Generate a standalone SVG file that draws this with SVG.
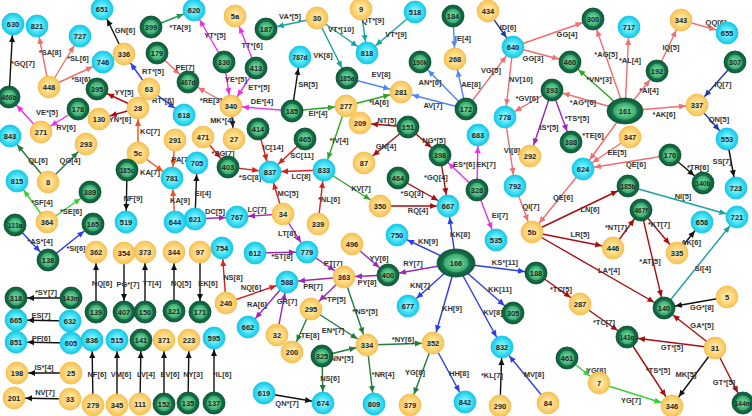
<svg xmlns="http://www.w3.org/2000/svg" width="752" height="416" viewBox="0 0 752 416">
<style>
line{stroke-width:1.4;fill:none}
.k{stroke:#111;marker-end:url(#a-k)}
.s{stroke:#f26d6d;marker-end:url(#a-s)}
.dr{stroke:#a80d10;marker-end:url(#a-dr)}
.r{stroke:#d81e1e;marker-end:url(#a-r)}
.or{stroke:#f0501e;marker-end:url(#a-or)}
.m{stroke:#ee2ee6;marker-end:url(#a-m)}
.p{stroke:#9b27b5;marker-end:url(#a-p)}
.b{stroke:#2b3bf0;marker-end:url(#a-b)}
.lb{stroke:#4f86f7;marker-end:url(#a-lb)}
.db{stroke:#1c3aa8;marker-end:url(#a-db)}
.t{stroke:#17a2a2;marker-end:url(#a-t)}
.g{stroke:#1e7b3c;marker-end:url(#a-g)}
.bg{stroke:#2aa52a;marker-end:url(#a-bg)}
.lg{stroke:#3ccc3c;marker-end:url(#a-lg)}
.tg{stroke:#1e9a55;marker-end:url(#a-tg)}
.el{font-family:"Liberation Sans",Arial,sans-serif;font-size:7.5px;font-weight:bold;fill:#333;text-anchor:middle}
.nt{font-family:"Liberation Sans",Arial,sans-serif;font-size:7.5px;font-weight:bold;fill:#222;text-anchor:middle}
.n4{font-size:6.6px}
.nc{fill:url(#gc);stroke:#19c7e3;stroke-width:0.8}
.no{fill:url(#go);stroke:#f2bf55;stroke-width:0.8}
.ng{fill:url(#gg);stroke:#0b5232;stroke-width:0.8}
</style>
<defs>
<radialGradient id="gc"><stop offset="0" stop-color="#b5fbff"/><stop offset="0.6" stop-color="#45e2f7"/><stop offset="1" stop-color="#14c6e4"/></radialGradient>
<radialGradient id="go"><stop offset="0" stop-color="#fff3c8"/><stop offset="0.6" stop-color="#ffd67a"/><stop offset="1" stop-color="#f5c257"/></radialGradient>
<radialGradient id="gg"><stop offset="0" stop-color="#8ae6ab"/><stop offset="0.62" stop-color="#38aa6e"/><stop offset="0.7" stop-color="#17704a"/><stop offset="1" stop-color="#0e5a38"/></radialGradient>
<marker id="a-k" viewBox="-20 -4 20 8" refX="0" refY="0" markerWidth="20" markerHeight="8" markerUnits="userSpaceOnUse" orient="auto"><path d="M-11.5,0 L-18,-3 L-18,3 Z" fill="#111"/></marker>
<marker id="a-s" viewBox="-20 -4 20 8" refX="0" refY="0" markerWidth="20" markerHeight="8" markerUnits="userSpaceOnUse" orient="auto"><path d="M-11.5,0 L-18,-3 L-18,3 Z" fill="#f26d6d"/></marker>
<marker id="a-dr" viewBox="-20 -4 20 8" refX="0" refY="0" markerWidth="20" markerHeight="8" markerUnits="userSpaceOnUse" orient="auto"><path d="M-11.5,0 L-18,-3 L-18,3 Z" fill="#a80d10"/></marker>
<marker id="a-r" viewBox="-20 -4 20 8" refX="0" refY="0" markerWidth="20" markerHeight="8" markerUnits="userSpaceOnUse" orient="auto"><path d="M-11.5,0 L-18,-3 L-18,3 Z" fill="#d81e1e"/></marker>
<marker id="a-or" viewBox="-20 -4 20 8" refX="0" refY="0" markerWidth="20" markerHeight="8" markerUnits="userSpaceOnUse" orient="auto"><path d="M-11.5,0 L-18,-3 L-18,3 Z" fill="#f0501e"/></marker>
<marker id="a-m" viewBox="-20 -4 20 8" refX="0" refY="0" markerWidth="20" markerHeight="8" markerUnits="userSpaceOnUse" orient="auto"><path d="M-11.5,0 L-18,-3 L-18,3 Z" fill="#ee2ee6"/></marker>
<marker id="a-p" viewBox="-20 -4 20 8" refX="0" refY="0" markerWidth="20" markerHeight="8" markerUnits="userSpaceOnUse" orient="auto"><path d="M-11.5,0 L-18,-3 L-18,3 Z" fill="#9b27b5"/></marker>
<marker id="a-b" viewBox="-20 -4 20 8" refX="0" refY="0" markerWidth="20" markerHeight="8" markerUnits="userSpaceOnUse" orient="auto"><path d="M-11.5,0 L-18,-3 L-18,3 Z" fill="#2b3bf0"/></marker>
<marker id="a-lb" viewBox="-20 -4 20 8" refX="0" refY="0" markerWidth="20" markerHeight="8" markerUnits="userSpaceOnUse" orient="auto"><path d="M-11.5,0 L-18,-3 L-18,3 Z" fill="#4f86f7"/></marker>
<marker id="a-db" viewBox="-20 -4 20 8" refX="0" refY="0" markerWidth="20" markerHeight="8" markerUnits="userSpaceOnUse" orient="auto"><path d="M-11.5,0 L-18,-3 L-18,3 Z" fill="#1c3aa8"/></marker>
<marker id="a-t" viewBox="-20 -4 20 8" refX="0" refY="0" markerWidth="20" markerHeight="8" markerUnits="userSpaceOnUse" orient="auto"><path d="M-11.5,0 L-18,-3 L-18,3 Z" fill="#17a2a2"/></marker>
<marker id="a-g" viewBox="-20 -4 20 8" refX="0" refY="0" markerWidth="20" markerHeight="8" markerUnits="userSpaceOnUse" orient="auto"><path d="M-11.5,0 L-18,-3 L-18,3 Z" fill="#1e7b3c"/></marker>
<marker id="a-bg" viewBox="-20 -4 20 8" refX="0" refY="0" markerWidth="20" markerHeight="8" markerUnits="userSpaceOnUse" orient="auto"><path d="M-11.5,0 L-18,-3 L-18,3 Z" fill="#2aa52a"/></marker>
<marker id="a-lg" viewBox="-20 -4 20 8" refX="0" refY="0" markerWidth="20" markerHeight="8" markerUnits="userSpaceOnUse" orient="auto"><path d="M-11.5,0 L-18,-3 L-18,3 Z" fill="#3ccc3c"/></marker>
<marker id="a-tg" viewBox="-20 -4 20 8" refX="0" refY="0" markerWidth="20" markerHeight="8" markerUnits="userSpaceOnUse" orient="auto"><path d="M-11.5,0 L-18,-3 L-18,3 Z" fill="#1e9a55"/></marker>
</defs>
<rect width="752" height="416" fill="#fff"/>
<g id="connectors">
<line class="k" x1="9" y1="97" x2="13" y2="24"/>
<line class="s" x1="49" y1="87" x2="37" y2="26"/>
<line class="s" x1="49" y1="87" x2="80" y2="36"/>
<line class="s" x1="49" y1="87" x2="103" y2="62"/>
<line class="k" x1="124" y1="54" x2="102" y2="9"/>
<line class="b" x1="149" y1="89" x2="124" y2="54"/>
<line class="b" x1="149" y1="89" x2="184" y2="115"/>
<line class="dr" x1="138" y1="108" x2="97" y2="89"/>
<line class="dr" x1="138" y1="108" x2="99" y2="119"/>
<line class="or" x1="138" y1="153" x2="138" y2="108"/>
<line class="m" x1="41" y1="132" x2="9" y2="97"/>
<line class="m" x1="78" y1="109" x2="41" y2="132"/>
<line class="s" x1="157" y1="53" x2="188" y2="82"/>
<line class="tg" x1="151" y1="27" x2="194" y2="10"/>
<line class="m" x1="224" y1="62" x2="194" y2="10"/>
<line class="m" x1="256" y1="68" x2="235" y2="16"/>
<line class="m" x1="224" y1="62" x2="231" y2="106"/>
<line class="m" x1="256" y1="68" x2="231" y2="106"/>
<line class="s" x1="231" y1="106" x2="188" y2="82"/>
<line class="m" x1="292" y1="111" x2="231" y2="106"/>
<line class="k" x1="231" y1="106" x2="234" y2="139"/>
<line class="k" x1="292" y1="111" x2="300" y2="57"/>
<line class="bg" x1="292" y1="111" x2="346" y2="106"/>
<line class="t" x1="317" y1="18" x2="266" y2="29"/>
<line class="t" x1="317" y1="18" x2="367" y2="53"/>
<line class="t" x1="361" y1="9" x2="367" y2="53"/>
<line class="t" x1="415" y1="12" x2="367" y2="53"/>
<line class="t" x1="317" y1="18" x2="347" y2="78"/>
<line class="lb" x1="347" y1="78" x2="401" y2="92"/>
<line class="bg" x1="346" y1="106" x2="401" y2="92"/>
<line class="lb" x1="466" y1="109" x2="401" y2="92"/>
<line class="lb" x1="466" y1="109" x2="420" y2="62"/>
<line class="lb" x1="466" y1="109" x2="455" y2="59"/>
<line class="lb" x1="453" y1="16" x2="455" y2="59"/>
<line class="s" x1="466" y1="109" x2="513" y2="47"/>
<line class="db" x1="488" y1="11" x2="513" y2="47"/>
<line class="s" x1="513" y1="47" x2="593" y2="19"/>
<line class="s" x1="513" y1="47" x2="570" y2="62"/>
<line class="s" x1="513" y1="47" x2="505" y2="117"/>
<line class="s" x1="552" y1="90" x2="505" y2="117"/>
<line class="p" x1="552" y1="90" x2="530" y2="156"/>
<line class="p" x1="552" y1="90" x2="571" y2="142"/>
<line class="s" x1="625" y1="111" x2="593" y2="19"/>
<line class="s" x1="625" y1="111" x2="629" y2="27"/>
<line class="bg" x1="625" y1="111" x2="570" y2="62"/>
<line class="s" x1="625" y1="111" x2="552" y2="90"/>
<line class="s" x1="625" y1="111" x2="657" y2="71"/>
<line class="s" x1="625" y1="111" x2="697" y2="105"/>
<line class="s" x1="625" y1="111" x2="583" y2="169"/>
<line class="s" x1="657" y1="71" x2="681" y2="20"/>
<line class="s" x1="681" y1="20" x2="727" y2="33"/>
<line class="db" x1="735" y1="62" x2="697" y2="105"/>
<line class="db" x1="697" y1="105" x2="727" y2="139"/>
<line class="s" x1="630" y1="137" x2="583" y2="169"/>
<line class="s" x1="670" y1="155" x2="583" y2="169"/>
<line class="s" x1="583" y1="169" x2="532" y2="232"/>
<line class="k" x1="670" y1="155" x2="703" y2="183"/>
<line class="k" x1="727" y1="139" x2="736" y2="188"/>
<line class="t" x1="628" y1="186" x2="737" y2="217"/>
<line class="t" x1="664" y1="308" x2="737" y2="217"/>
<line class="dr" x1="532" y1="232" x2="628" y2="186"/>
<line class="dr" x1="532" y1="232" x2="613" y2="248"/>
<line class="dr" x1="532" y1="232" x2="664" y2="308"/>
<line class="dr" x1="613" y1="248" x2="641" y2="210"/>
<line class="dr" x1="641" y1="210" x2="677" y2="253"/>
<line class="k" x1="677" y1="253" x2="702" y2="222"/>
<line class="dr" x1="641" y1="210" x2="664" y2="308"/>
<line class="s" x1="515" y1="186" x2="532" y2="232"/>
<line class="s" x1="505" y1="117" x2="515" y2="186"/>
<line class="dr" x1="536" y1="273" x2="580" y2="304"/>
<line class="dr" x1="580" y1="304" x2="627" y2="337"/>
<line class="dr" x1="715" y1="348" x2="627" y2="337"/>
<line class="dr" x1="715" y1="348" x2="664" y2="308"/>
<line class="k" x1="727" y1="297" x2="664" y2="308"/>
<line class="dr" x1="627" y1="337" x2="672" y2="406"/>
<line class="k" x1="715" y1="348" x2="672" y2="406"/>
<line class="dr" x1="715" y1="348" x2="743" y2="403"/>
<line class="lg" x1="567" y1="358" x2="599" y2="383"/>
<line class="lg" x1="599" y1="383" x2="672" y2="406"/>
<line class="b" x1="456" y1="263" x2="448" y2="206"/>
<line class="b" x1="456" y1="263" x2="397" y2="235"/>
<line class="p" x1="456" y1="263" x2="388" y2="275"/>
<line class="b" x1="456" y1="263" x2="536" y2="273"/>
<line class="b" x1="456" y1="263" x2="408" y2="306"/>
<line class="b" x1="456" y1="263" x2="433" y2="343"/>
<line class="b" x1="456" y1="263" x2="513" y2="313"/>
<line class="b" x1="456" y1="263" x2="502" y2="347"/>
<line class="b" x1="433" y1="343" x2="465" y2="402"/>
<line class="g" x1="433" y1="343" x2="410" y2="405"/>
<line class="g" x1="367" y1="345" x2="433" y2="343"/>
<line class="g" x1="367" y1="345" x2="374" y2="404"/>
<line class="k" x1="500" y1="406" x2="502" y2="347"/>
<line class="b" x1="548" y1="403" x2="502" y2="347"/>
<line class="g" x1="344" y1="277" x2="367" y2="345"/>
<line class="g" x1="311" y1="309" x2="367" y2="345"/>
<line class="g" x1="322" y1="356" x2="367" y2="345"/>
<line class="g" x1="322" y1="356" x2="323" y2="403"/>
<line class="k" x1="264" y1="393" x2="323" y2="403"/>
<line class="g" x1="311" y1="309" x2="292" y2="352"/>
<line class="p" x1="344" y1="277" x2="311" y2="309"/>
<line class="p" x1="344" y1="277" x2="287" y2="282"/>
<line class="p" x1="388" y1="275" x2="344" y2="277"/>
<line class="p" x1="287" y1="282" x2="248" y2="327"/>
<line class="p" x1="277" y1="335" x2="287" y2="282"/>
<line class="r" x1="226" y1="303" x2="287" y2="282"/>
<line class="r" x1="226" y1="303" x2="222" y2="248"/>
<line class="k" x1="200" y1="252" x2="200" y2="312"/>
<line class="p" x1="307" y1="252" x2="344" y2="277"/>
<line class="p" x1="352" y1="244" x2="388" y2="275"/>
<line class="p" x1="283" y1="214" x2="307" y2="252"/>
<line class="p" x1="255" y1="253" x2="307" y2="252"/>
<line class="p" x1="283" y1="214" x2="237" y2="217"/>
<line class="p" x1="195" y1="219" x2="237" y2="217"/>
<line class="k" x1="195" y1="219" x2="197" y2="163"/>
<line class="r" x1="283" y1="214" x2="270" y2="172"/>
<line class="r" x1="324" y1="170" x2="270" y2="172"/>
<line class="r" x1="318" y1="224" x2="324" y2="170"/>
<line class="r" x1="305" y1="139" x2="270" y2="172"/>
<line class="r" x1="258" y1="129" x2="270" y2="172"/>
<line class="r" x1="228" y1="167" x2="270" y2="172"/>
<line class="r" x1="203" y1="137" x2="228" y2="167"/>
<line class="bg" x1="346" y1="106" x2="324" y2="170"/>
<line class="bg" x1="324" y1="170" x2="380" y2="206"/>
<line class="dr" x1="380" y1="206" x2="448" y2="206"/>
<line class="dr" x1="398" y1="178" x2="448" y2="206"/>
<line class="dr" x1="440" y1="155" x2="448" y2="206"/>
<line class="dr" x1="408" y1="127" x2="440" y2="155"/>
<line class="dr" x1="408" y1="127" x2="360" y2="123"/>
<line class="dr" x1="408" y1="127" x2="364" y2="163"/>
<line class="m" x1="477" y1="190" x2="440" y2="155"/>
<line class="m" x1="477" y1="190" x2="478" y2="135"/>
<line class="m" x1="477" y1="190" x2="496" y2="240"/>
<line class="or" x1="138" y1="153" x2="172" y2="178"/>
<line class="or" x1="175" y1="140" x2="172" y2="178"/>
<line class="or" x1="175" y1="222" x2="172" y2="178"/>
<line class="k" x1="127" y1="170" x2="126" y2="222"/>
<line class="g" x1="48" y1="182" x2="10" y2="136"/>
<line class="g" x1="48" y1="182" x2="86" y2="144"/>
<line class="lg" x1="47" y1="222" x2="17" y2="181"/>
<line class="lg" x1="47" y1="222" x2="90" y2="192"/>
<line class="b" x1="15" y1="225" x2="48" y2="260"/>
<line class="b" x1="48" y1="260" x2="93" y2="224"/>
<line class="k" x1="96" y1="312" x2="96" y2="252"/>
<line class="k" x1="124" y1="253" x2="124" y2="312"/>
<line class="k" x1="145" y1="312" x2="145" y2="252"/>
<line class="k" x1="174" y1="311" x2="174" y2="252"/>
<line class="k" x1="71" y1="298" x2="16" y2="298"/>
<line class="k" x1="70" y1="321" x2="16" y2="320"/>
<line class="k" x1="71" y1="343" x2="16" y2="342"/>
<line class="k" x1="71" y1="373" x2="17" y2="373"/>
<line class="k" x1="70" y1="399" x2="14" y2="398"/>
<line class="k" x1="93" y1="405" x2="92" y2="340"/>
<line class="k" x1="117" y1="405" x2="117" y2="340"/>
<line class="k" x1="140" y1="404" x2="141" y2="340"/>
<line class="k" x1="164" y1="404" x2="164" y2="340"/>
<line class="k" x1="188" y1="403" x2="189" y2="340"/>
<line class="k" x1="214" y1="403" x2="214" y2="338"/>
<g class="el">
<text x="23" y="66">*GQ[7]</text><text x="50" y="55">*SA[8]</text><text x="78" y="61">*SL[6]</text><text x="81" y="82">*SI[6]</text>
<text x="125" y="33">GN[6]</text><text x="153" y="74">RT*[5]</text><text x="163" y="103">RT*[6]</text><text x="124" y="95">YY[5]</text>
<text x="120" y="122">YN*[6]</text><text x="150" y="134">KC[7]</text><text x="47" y="115">VE*[5]</text><text x="66" y="130">RV[6]</text>
<text x="185" y="70">PE[7]</text><text x="180" y="30">*TA[9]</text><text x="215" y="38">YT*[5]</text><text x="252" y="48">TT*[6]</text>
<text x="236" y="82">YE*[5]</text><text x="259" y="90">ET*[5]</text><text x="211" y="103">*RE[3]</text><text x="262" y="104">DE*[4]</text>
<text x="222" y="123">MK*[4]</text><text x="308" y="87">SR[5]</text><text x="318" y="116">EI*[4]</text><text x="290" y="19">VA*[5]</text>
<text x="341" y="32">VT*[10]</text><text x="373" y="23">QT*[9]</text><text x="396" y="37">VT*[9]</text><text x="323" y="58">VK[8]</text>
<text x="381" y="77">EV[8]</text><text x="379" y="105">*IA[6]</text><text x="433" y="108">AV[7]</text><text x="430" y="85">AN*[6]</text>
<text x="471" y="87">AE[8]</text><text x="463" y="41">IE[4]</text><text x="491" y="73">VG[5]</text><text x="508" y="30">ID[6]</text>
<text x="567" y="37">GG[4]</text><text x="533" y="61">GG[3]</text><text x="521" y="82">NV[10]</text><text x="527" y="101">*GV[6]</text>
<text x="549" y="130">IS*[5]</text><text x="577" y="121">*TS*[5]</text><text x="606" y="57">*AG[5]</text><text x="630" y="63">*AL[4]</text>
<text x="599" y="82">*VN*[3]</text><text x="583" y="105">*AG*[6]</text><text x="649" y="93">*AI[4]</text><text x="671" y="50">IQ[5]</text>
<text x="716" y="25">QQ[6]</text><text x="664" y="117">*AK[6]</text><text x="723" y="87">IQ[7]</text><text x="719" y="122">QN[5]</text>
<text x="593" y="138">*TE[6]</text><text x="617" y="155">EE[5]</text><text x="636" y="167">QE[6]</text><text x="563" y="200">QE[6]</text>
<text x="698" y="170">*TR[6]</text><text x="722" y="164">SS[7]</text><text x="683" y="199">NI[5]</text><text x="703" y="271">SI[4]</text>
<text x="590" y="212">LN[6]</text><text x="580" y="237">LR[5]</text><text x="609" y="273">LA*[4]</text><text x="616" y="230">*NT[7]</text>
<text x="659" y="227">*KT[7]</text><text x="691" y="245">AK[6]</text><text x="650" y="264">*AT[5]</text><text x="531" y="209">QI[7]</text>
<text x="512" y="153">VI[8]</text><text x="505" y="265">KS*[11]</text><text x="561" y="292">*TC[5]</text><text x="604" y="325">*TC[7]</text>
<text x="672" y="350">GT*[5]</text><text x="702" y="328">GA*[5]</text><text x="702" y="310">GG*[8]</text><text x="658" y="373">*TS*[5]</text>
<text x="686" y="377">MK[5]</text><text x="724" y="385">GT*[5]</text><text x="596" y="373">YG[8]</text><text x="631" y="403">YG[7]</text>
<text x="460" y="237">KK[8]</text><text x="428" y="244">KN[9]</text><text x="413" y="266">RY[7]</text><text x="420" y="288">KN[7]</text>
<text x="452" y="311">KH[9]</text><text x="500" y="292">KK[11]</text><text x="493" y="315">KV[8]</text><text x="459" y="376">HH[8]</text>
<text x="415" y="375">YG[8]</text><text x="403" y="342">*NY[6]</text><text x="383" y="377">*NR[4]</text><text x="492" y="378">*KL[7]</text>
<text x="534" y="377">MV[8]</text><text x="365" y="314">*NS*[5]</text><text x="333" y="333">EN*[7]</text><text x="342" y="361">NN*[5]</text>
<text x="330" y="381">NS[6]</text><text x="287" y="406">QN*[7]</text><text x="310" y="338">TE[8]</text><text x="335" y="302">*TP[5]</text>
<text x="313" y="289">PR[7]</text><text x="367" y="285">PY[8]</text><text x="257" y="307">RA[6]</text><text x="287" y="304">GR[7]</text>
<text x="251" y="290">NQ[6]</text><text x="233" y="280">NS[8]</text><text x="208" y="286">EK[6]</text><text x="333" y="266">PT[7]</text>
<text x="379" y="261">YV[6]</text><text x="287" y="236">LT[8]</text><text x="282" y="259">*ST[8]</text><text x="257" y="212">LC[7]</text>
<text x="215" y="214">DC[5]</text><text x="203" y="196">EI[4]</text><text x="288" y="196">MC[5]</text><text x="301" y="179">LC[8]</text>
<text x="329" y="202">*NL[6]</text><text x="302" y="158">SC[11]</text><text x="273" y="150">IC[14]</text><text x="250" y="180">*SC[8]</text>
<text x="223" y="156">*SG[7]</text><text x="339" y="143">*IV[4]</text><text x="361" y="191">KV[7]</text><text x="418" y="213">RQ[4]</text>
<text x="412" y="196">*SQ[3]</text><text x="436" y="180">*GQ[4]</text><text x="434" y="143">NG*[5]</text><text x="387" y="123">NT[5]</text>
<text x="386" y="149">GN[4]</text><text x="464" y="167">ES*[6]</text><text x="486" y="167">EK[7]</text><text x="500" y="218">EI[7]</text>
<text x="150" y="175">KA[7]</text><text x="181" y="162">PA[7]</text><text x="180" y="203">KA[9]</text><text x="133" y="201">NF[9]</text>
<text x="38" y="163">QL[6]</text><text x="70" y="163">QG[4]</text><text x="42" y="205">*SF[4]</text><text x="71" y="214">*SE[6]</text>
<text x="40" y="244">*AS*[4]</text><text x="76" y="251">*SI[6]</text><text x="102" y="286">NQ[6]</text><text x="128" y="287">PG*[7]</text>
<text x="152" y="286">TT[4]</text><text x="181" y="286">NQ[5]</text><text x="46" y="295">*SY[7]</text><text x="41" y="318">ES[7]</text>
<text x="41" y="341">PF[6]</text><text x="44" y="370">IS*[4]</text><text x="45" y="395">NV[7]</text><text x="97" y="377">NF[6]</text>
<text x="121" y="377">VM[6]</text><text x="146" y="377">LV[4]</text><text x="170" y="377">EV[6]</text><text x="193" y="377">NY[3]</text>
<text x="222" y="377">*IL[6]</text>
</g>
</g>
<g id="n630"><circle class="nc" cx="13" cy="24" r="11"/><text class="nt" x="13" y="27">630</text></g>
<g id="n821"><circle class="nc" cx="37" cy="26" r="11"/><text class="nt" x="37" y="29">821</text></g>
<g id="n727"><circle class="nc" cx="80" cy="36" r="11"/><text class="nt" x="80" y="39">727</text></g>
<g id="n746"><circle class="nc" cx="103" cy="62" r="11"/><text class="nt" x="103" y="65">746</text></g>
<g id="n651"><circle class="nc" cx="102" cy="9" r="11"/><text class="nt" x="102" y="12">651</text></g>
<g id="n336"><circle class="no" cx="124" cy="54" r="11"/><text class="nt" x="124" y="57">336</text></g>
<g id="n399"><circle class="ng" cx="151" cy="27" r="11"/><text class="nt" x="151" y="30">399</text></g>
<g id="n179"><circle class="ng" cx="157" cy="53" r="11"/><text class="nt" x="157" y="56">179</text></g>
<g id="n448"><circle class="no" cx="49" cy="87" r="11"/><text class="nt" x="49" y="90">448</text></g>
<g id="n466b"><circle class="ng" cx="9" cy="97" r="11"/><text class="nt n4" x="9" y="99.5">466b</text></g>
<g id="n395"><circle class="ng" cx="97" cy="89" r="11"/><text class="nt" x="97" y="92">395</text></g>
<g id="n63"><circle class="no" cx="149" cy="89" r="11"/><text class="nt" x="149" y="92">63</text></g>
<g id="n178"><circle class="ng" cx="78" cy="109" r="11"/><text class="nt" x="78" y="112">178</text></g>
<g id="n28"><circle class="no" cx="138" cy="108" r="11"/><text class="nt" x="138" y="111">28</text></g>
<g id="n130"><circle class="no" cx="99" cy="119" r="11"/><text class="nt" x="99" y="122">130</text></g>
<g id="n271"><circle class="no" cx="41" cy="132" r="11"/><text class="nt" x="41" y="135">271</text></g>
<g id="n618"><circle class="nc" cx="184" cy="115" r="11"/><text class="nt" x="184" y="118">618</text></g>
<g id="n843"><circle class="nc" cx="10" cy="136" r="11"/><text class="nt" x="10" y="139">843</text></g>
<g id="n467d"><circle class="ng" cx="188" cy="82" r="11"/><text class="nt n4" x="188" y="84.5">467d</text></g>
<g id="n620"><circle class="nc" cx="194" cy="10" r="11"/><text class="nt" x="194" y="13">620</text></g>
<g id="n5a"><circle class="no" cx="235" cy="16" r="11"/><text class="nt" x="235" y="19">5a</text></g>
<g id="n187"><circle class="ng" cx="266" cy="29" r="11"/><text class="nt" x="266" y="32">187</text></g>
<g id="n30"><circle class="no" cx="317" cy="18" r="11"/><text class="nt" x="317" y="21">30</text></g>
<g id="n9"><circle class="no" cx="361" cy="9" r="11"/><text class="nt" x="361" y="12">9</text></g>
<g id="n518"><circle class="nc" cx="415" cy="12" r="11"/><text class="nt" x="415" y="15">518</text></g>
<g id="n818"><circle class="nc" cx="367" cy="53" r="11"/><text class="nt" x="367" y="56">818</text></g>
<g id="n330"><circle class="ng" cx="224" cy="62" r="11"/><text class="nt" x="224" y="65">330</text></g>
<g id="n413"><circle class="ng" cx="256" cy="68" r="11"/><text class="nt" x="256" y="71">413</text></g>
<g id="n787d"><circle class="nc" cx="300" cy="57" r="11"/><text class="nt n4" x="300" y="59.5">787d</text></g>
<g id="n185a"><circle class="ng" cx="347" cy="78" r="11"/><text class="nt n4" x="347" y="80.5">185a</text></g>
<g id="n340"><circle class="no" cx="231" cy="106" r="11"/><text class="nt" x="231" y="109">340</text></g>
<g id="n185"><circle class="ng" cx="292" cy="111" r="11"/><text class="nt" x="292" y="114">185</text></g>
<g id="n277"><circle class="no" cx="346" cy="106" r="11"/><text class="nt" x="346" y="109">277</text></g>
<g id="n281"><circle class="no" cx="401" cy="92" r="11"/><text class="nt" x="401" y="95">281</text></g>
<g id="n209"><circle class="no" cx="360" cy="123" r="11"/><text class="nt" x="360" y="126">209</text></g>
<g id="n414"><circle class="ng" cx="258" cy="129" r="11"/><text class="nt" x="258" y="132">414</text></g>
<g id="n27"><circle class="no" cx="234" cy="139" r="11"/><text class="nt" x="234" y="142">27</text></g>
<g id="n471"><circle class="no" cx="203" cy="137" r="11"/><text class="nt" x="203" y="140">471</text></g>
<g id="n465"><circle class="ng" cx="305" cy="139" r="11"/><text class="nt" x="305" y="142">465</text></g>
<g id="n184"><circle class="ng" cx="453" cy="16" r="11"/><text class="nt" x="453" y="19">184</text></g>
<g id="n434"><circle class="no" cx="488" cy="11" r="11"/><text class="nt" x="488" y="14">434</text></g>
<g id="n268"><circle class="no" cx="455" cy="59" r="11"/><text class="nt" x="455" y="62">268</text></g>
<g id="n190k"><circle class="ng" cx="420" cy="62" r="11"/><text class="nt n4" x="420" y="64.5">190k</text></g>
<g id="n172"><circle class="ng" cx="466" cy="109" r="11"/><text class="nt" x="466" y="112">172</text></g>
<g id="n640"><circle class="nc" cx="513" cy="47" r="11"/><text class="nt" x="513" y="50">640</text></g>
<g id="n778"><circle class="nc" cx="505" cy="117" r="11"/><text class="nt" x="505" y="120">778</text></g>
<g id="n393"><circle class="ng" cx="552" cy="90" r="11"/><text class="nt" x="552" y="93">393</text></g>
<g id="n151"><circle class="ng" cx="408" cy="127" r="11"/><text class="nt" x="408" y="130">151</text></g>
<g id="n683"><circle class="nc" cx="478" cy="135" r="11"/><text class="nt" x="478" y="138">683</text></g>
<g id="n300"><circle class="ng" cx="593" cy="19" r="11"/><text class="nt" x="593" y="22">300</text></g>
<g id="n717"><circle class="nc" cx="629" cy="27" r="11"/><text class="nt" x="629" y="30">717</text></g>
<g id="n343"><circle class="no" cx="681" cy="20" r="11"/><text class="nt" x="681" y="23">343</text></g>
<g id="n655"><circle class="nc" cx="727" cy="33" r="11"/><text class="nt" x="727" y="36">655</text></g>
<g id="n460"><circle class="ng" cx="570" cy="62" r="11"/><text class="nt" x="570" y="65">460</text></g>
<g id="n192"><circle class="ng" cx="657" cy="71" r="11"/><text class="nt" x="657" y="74">192</text></g>
<g id="n307"><circle class="ng" cx="735" cy="62" r="11"/><text class="nt" x="735" y="65">307</text></g>
<g id="n161"><ellipse class="ng" cx="625" cy="111" rx="18" ry="13"/><text class="nt" x="625" y="114">161</text></g>
<g id="n337"><circle class="no" cx="697" cy="105" r="11"/><text class="nt" x="697" y="108">337</text></g>
<g id="n553"><circle class="nc" cx="727" cy="139" r="11"/><text class="nt" x="727" y="142">553</text></g>
<g id="n347"><circle class="no" cx="630" cy="137" r="11"/><text class="nt" x="630" y="140">347</text></g>
<g id="n388"><circle class="ng" cx="571" cy="142" r="11"/><text class="nt" x="571" y="145">388</text></g>
<g id="n292"><circle class="no" cx="530" cy="156" r="11"/><text class="nt" x="530" y="159">292</text></g>
<g id="n792"><circle class="nc" cx="515" cy="186" r="11"/><text class="nt" x="515" y="189">792</text></g>
<g id="n624"><circle class="nc" cx="583" cy="169" r="11"/><text class="nt" x="583" y="172">624</text></g>
<g id="n170"><circle class="ng" cx="670" cy="155" r="11"/><text class="nt" x="670" y="158">170</text></g>
<g id="n140b"><circle class="ng" cx="703" cy="183" r="11"/><text class="nt n4" x="703" y="185.5">140b</text></g>
<g id="n723"><circle class="nc" cx="736" cy="188" r="11"/><text class="nt" x="736" y="191">723</text></g>
<g id="n185b"><circle class="ng" cx="628" cy="186" r="11"/><text class="nt n4" x="628" y="188.5">185b</text></g>
<g id="n721"><circle class="nc" cx="737" cy="217" r="11"/><text class="nt" x="737" y="220">721</text></g>
<g id="n467f"><circle class="ng" cx="641" cy="210" r="11"/><text class="nt n4" x="641" y="212.5">467f</text></g>
<g id="n658"><circle class="nc" cx="702" cy="222" r="11"/><text class="nt" x="702" y="225">658</text></g>
<g id="n446"><circle class="no" cx="613" cy="248" r="11"/><text class="nt" x="613" y="251">446</text></g>
<g id="n335"><circle class="no" cx="677" cy="253" r="11"/><text class="nt" x="677" y="256">335</text></g>
<g id="n5b"><circle class="no" cx="532" cy="232" r="11"/><text class="nt" x="532" y="235">5b</text></g>
<g id="n140"><circle class="ng" cx="664" cy="308" r="11"/><text class="nt" x="664" y="311">140</text></g>
<g id="n5"><circle class="no" cx="727" cy="297" r="11"/><text class="nt" x="727" y="300">5</text></g>
<g id="n287"><circle class="no" cx="580" cy="304" r="11"/><text class="nt" x="580" y="307">287</text></g>
<g id="n143q"><circle class="ng" cx="627" cy="337" r="11"/><text class="nt n4" x="627" y="339.5">143q</text></g>
<g id="n31"><circle class="no" cx="715" cy="348" r="11"/><text class="nt" x="715" y="351">31</text></g>
<g id="n461"><circle class="ng" cx="567" cy="358" r="11"/><text class="nt" x="567" y="361">461</text></g>
<g id="n7"><circle class="no" cx="599" cy="383" r="11"/><text class="nt" x="599" y="386">7</text></g>
<g id="n346"><circle class="no" cx="672" cy="406" r="11"/><text class="nt" x="672" y="409">346</text></g>
<g id="n144m"><circle class="ng" cx="743" cy="403" r="11"/><text class="nt n4" x="743" y="405.5">144m</text></g>
<g id="n188"><circle class="ng" cx="536" cy="273" r="11"/><text class="nt" x="536" y="276">188</text></g>
<g id="n166"><ellipse class="ng" cx="456" cy="263" rx="19" ry="14"/><text class="nt" x="456" y="266">166</text></g>
<g id="n667"><circle class="nc" cx="448" cy="206" r="11"/><text class="nt" x="448" y="209">667</text></g>
<g id="n398"><circle class="ng" cx="440" cy="155" r="11"/><text class="nt" x="440" y="158">398</text></g>
<g id="n464"><circle class="ng" cx="398" cy="178" r="11"/><text class="nt" x="398" y="181">464</text></g>
<g id="n350"><circle class="no" cx="380" cy="206" r="11"/><text class="nt" x="380" y="209">350</text></g>
<g id="n328"><circle class="ng" cx="477" cy="190" r="11"/><text class="nt" x="477" y="193">328</text></g>
<g id="n535"><circle class="nc" cx="496" cy="240" r="11"/><text class="nt" x="496" y="243">535</text></g>
<g id="n750"><circle class="nc" cx="397" cy="235" r="11"/><text class="nt" x="397" y="238">750</text></g>
<g id="n400"><circle class="ng" cx="388" cy="275" r="11"/><text class="nt" x="388" y="278">400</text></g>
<g id="n677"><circle class="nc" cx="408" cy="306" r="11"/><text class="nt" x="408" y="309">677</text></g>
<g id="n305"><circle class="ng" cx="513" cy="313" r="11"/><text class="nt" x="513" y="316">305</text></g>
<g id="n352"><circle class="no" cx="433" cy="343" r="11"/><text class="nt" x="433" y="346">352</text></g>
<g id="n832"><circle class="nc" cx="502" cy="347" r="11"/><text class="nt" x="502" y="350">832</text></g>
<g id="n379"><circle class="no" cx="410" cy="405" r="11"/><text class="nt" x="410" y="408">379</text></g>
<g id="n842"><circle class="nc" cx="465" cy="402" r="11"/><text class="nt" x="465" y="405">842</text></g>
<g id="n290"><circle class="no" cx="500" cy="406" r="11"/><text class="nt" x="500" y="409">290</text></g>
<g id="n84"><circle class="no" cx="548" cy="403" r="11"/><text class="nt" x="548" y="406">84</text></g>
<g id="n809"><circle class="nc" cx="374" cy="404" r="11"/><text class="nt" x="374" y="407">809</text></g>
<g id="n334"><circle class="no" cx="367" cy="345" r="11"/><text class="nt" x="367" y="348">334</text></g>
<g id="n325"><circle class="ng" cx="322" cy="356" r="11"/><text class="nt" x="322" y="359">325</text></g>
<g id="n674"><circle class="nc" cx="323" cy="403" r="11"/><text class="nt" x="323" y="406">674</text></g>
<g id="n619"><circle class="nc" cx="264" cy="393" r="11"/><text class="nt" x="264" y="396">619</text></g>
<g id="n295"><circle class="no" cx="311" cy="309" r="11"/><text class="nt" x="311" y="312">295</text></g>
<g id="n200"><circle class="no" cx="292" cy="352" r="11"/><text class="nt" x="292" y="355">200</text></g>
<g id="n32"><circle class="no" cx="277" cy="335" r="11"/><text class="nt" x="277" y="338">32</text></g>
<g id="n662"><circle class="nc" cx="248" cy="327" r="11"/><text class="nt" x="248" y="330">662</text></g>
<g id="n588"><circle class="nc" cx="287" cy="282" r="11"/><text class="nt" x="287" y="285">588</text></g>
<g id="n363"><circle class="no" cx="344" cy="277" r="11"/><text class="nt" x="344" y="280">363</text></g>
<g id="n240"><circle class="no" cx="226" cy="303" r="11"/><text class="nt" x="226" y="306">240</text></g>
<g id="n171"><circle class="ng" cx="200" cy="312" r="11"/><text class="nt" x="200" y="315">171</text></g>
<g id="n595"><circle class="nc" cx="214" cy="338" r="11"/><text class="nt" x="214" y="341">595</text></g>
<g id="n137"><circle class="ng" cx="214" cy="403" r="11"/><text class="nt" x="214" y="406">137</text></g>
<g id="n223"><circle class="no" cx="189" cy="340" r="11"/><text class="nt" x="189" y="343">223</text></g>
<g id="n135"><circle class="ng" cx="188" cy="403" r="11"/><text class="nt" x="188" y="406">135</text></g>
<g id="n612"><circle class="nc" cx="255" cy="253" r="11"/><text class="nt" x="255" y="256">612</text></g>
<g id="n779"><circle class="nc" cx="307" cy="252" r="11"/><text class="nt" x="307" y="255">779</text></g>
<g id="n496"><circle class="no" cx="352" cy="244" r="11"/><text class="nt" x="352" y="247">496</text></g>
<g id="n34"><circle class="no" cx="283" cy="214" r="11"/><text class="nt" x="283" y="217">34</text></g>
<g id="n767"><circle class="nc" cx="237" cy="217" r="11"/><text class="nt" x="237" y="220">767</text></g>
<g id="n621"><circle class="nc" cx="195" cy="219" r="11"/><text class="nt" x="195" y="222">621</text></g>
<g id="n705"><circle class="nc" cx="197" cy="163" r="11"/><text class="nt" x="197" y="166">705</text></g>
<g id="n403"><circle class="ng" cx="228" cy="167" r="11"/><text class="nt" x="228" y="170">403</text></g>
<g id="n837"><circle class="nc" cx="270" cy="172" r="11"/><text class="nt" x="270" y="175">837</text></g>
<g id="n833"><circle class="nc" cx="324" cy="170" r="11"/><text class="nt" x="324" y="173">833</text></g>
<g id="n339"><circle class="no" cx="318" cy="224" r="11"/><text class="nt" x="318" y="227">339</text></g>
<g id="n87"><circle class="no" cx="364" cy="163" r="11"/><text class="nt" x="364" y="166">87</text></g>
<g id="n754"><circle class="nc" cx="222" cy="248" r="11"/><text class="nt" x="222" y="251">754</text></g>
<g id="n97"><circle class="no" cx="200" cy="252" r="11"/><text class="nt" x="200" y="255">97</text></g>
<g id="n5c"><circle class="no" cx="138" cy="153" r="11"/><text class="nt" x="138" y="156">5c</text></g>
<g id="n291"><circle class="no" cx="175" cy="140" r="11"/><text class="nt" x="175" y="143">291</text></g>
<g id="n781"><circle class="nc" cx="172" cy="178" r="11"/><text class="nt" x="172" y="181">781</text></g>
<g id="n185c"><circle class="ng" cx="127" cy="170" r="11"/><text class="nt n4" x="127" y="172.5">185c</text></g>
<g id="n519"><circle class="nc" cx="126" cy="222" r="11"/><text class="nt" x="126" y="225">519</text></g>
<g id="n644"><circle class="nc" cx="175" cy="222" r="11"/><text class="nt" x="175" y="225">644</text></g>
<g id="n293"><circle class="no" cx="86" cy="144" r="11"/><text class="nt" x="86" y="147">293</text></g>
<g id="n8"><circle class="no" cx="48" cy="182" r="11"/><text class="nt" x="48" y="185">8</text></g>
<g id="n815"><circle class="nc" cx="17" cy="181" r="11"/><text class="nt" x="17" y="184">815</text></g>
<g id="n389"><circle class="ng" cx="90" cy="192" r="11"/><text class="nt" x="90" y="195">389</text></g>
<g id="n364"><circle class="no" cx="47" cy="222" r="11"/><text class="nt" x="47" y="225">364</text></g>
<g id="n133a"><circle class="ng" cx="15" cy="225" r="11"/><text class="nt n4" x="15" y="227.5">133a</text></g>
<g id="n165"><circle class="ng" cx="93" cy="224" r="11"/><text class="nt" x="93" y="227">165</text></g>
<g id="n138"><circle class="ng" cx="48" cy="260" r="11"/><text class="nt" x="48" y="263">138</text></g>
<g id="n362"><circle class="no" cx="96" cy="252" r="11"/><text class="nt" x="96" y="255">362</text></g>
<g id="n354"><circle class="no" cx="124" cy="253" r="11"/><text class="nt" x="124" y="256">354</text></g>
<g id="n373"><circle class="no" cx="145" cy="252" r="11"/><text class="nt" x="145" y="255">373</text></g>
<g id="n344"><circle class="no" cx="174" cy="252" r="11"/><text class="nt" x="174" y="255">344</text></g>
<g id="n139"><circle class="ng" cx="96" cy="312" r="11"/><text class="nt" x="96" y="315">139</text></g>
<g id="n407"><circle class="ng" cx="124" cy="312" r="11"/><text class="nt" x="124" y="315">407</text></g>
<g id="n150"><circle class="ng" cx="145" cy="312" r="11"/><text class="nt" x="145" y="315">150</text></g>
<g id="n321"><circle class="ng" cx="174" cy="311" r="11"/><text class="nt" x="174" y="314">321</text></g>
<g id="n318"><circle class="ng" cx="16" cy="298" r="11"/><text class="nt" x="16" y="301">318</text></g>
<g id="n143m"><circle class="ng" cx="71" cy="298" r="11"/><text class="nt n4" x="71" y="300.5">143m</text></g>
<g id="n665"><circle class="nc" cx="16" cy="320" r="11"/><text class="nt" x="16" y="323">665</text></g>
<g id="n632"><circle class="nc" cx="70" cy="321" r="11"/><text class="nt" x="70" y="324">632</text></g>
<g id="n851"><circle class="nc" cx="16" cy="342" r="11"/><text class="nt" x="16" y="345">851</text></g>
<g id="n605"><circle class="nc" cx="71" cy="343" r="11"/><text class="nt" x="71" y="346">605</text></g>
<g id="n198"><circle class="no" cx="17" cy="373" r="11"/><text class="nt" x="17" y="376">198</text></g>
<g id="n25"><circle class="no" cx="71" cy="373" r="11"/><text class="nt" x="71" y="376">25</text></g>
<g id="n201"><circle class="no" cx="14" cy="398" r="11"/><text class="nt" x="14" y="401">201</text></g>
<g id="n33"><circle class="no" cx="70" cy="399" r="11"/><text class="nt" x="70" y="402">33</text></g>
<g id="n836"><circle class="nc" cx="92" cy="340" r="11"/><text class="nt" x="92" y="343">836</text></g>
<g id="n515"><circle class="nc" cx="117" cy="340" r="11"/><text class="nt" x="117" y="343">515</text></g>
<g id="n141"><circle class="ng" cx="141" cy="340" r="11"/><text class="nt" x="141" y="343">141</text></g>
<g id="n371"><circle class="no" cx="164" cy="340" r="11"/><text class="nt" x="164" y="343">371</text></g>
<g id="n279"><circle class="no" cx="93" cy="405" r="11"/><text class="nt" x="93" y="408">279</text></g>
<g id="n345"><circle class="no" cx="117" cy="405" r="11"/><text class="nt" x="117" y="408">345</text></g>
<g id="n111"><circle class="no" cx="140" cy="404" r="11"/><text class="nt" x="140" y="407">111</text></g>
<g id="n152"><circle class="ng" cx="164" cy="404" r="11"/><text class="nt" x="164" y="407">152</text></g>
</svg>
